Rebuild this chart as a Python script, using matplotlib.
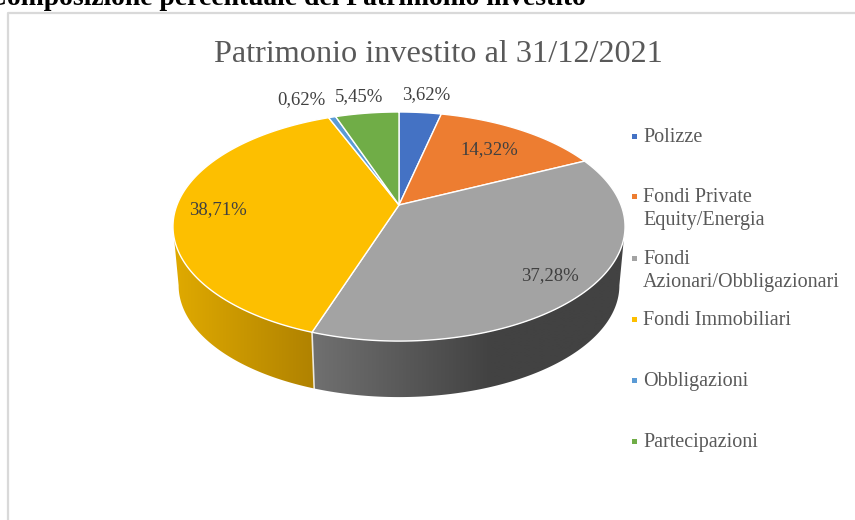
import numpy as np
import matplotlib
matplotlib.use("Agg")
import matplotlib.pyplot as plt
from matplotlib.patches import Polygon, Rectangle

categorie = ["Polizze", "Fondi Private\nEquity/Energia", "Fondi\nAzionari/Obbligazionari",
             "Fondi Immobiliari", "Obbligazioni", "Partecipazioni"]
valori = [3.62, 14.32, 37.28, 38.71, 0.62, 5.45]
etichette = ["3,62%", "14,32%", "37,28%", "38,71%", "0,62%", "5,45%"]
colori = ["#4472C4", "#ED7D31", "#A3A3A3", "#FDBF00", "#5B9BD5", "#70AD47"]

plt.rcParams['font.family'] = ['Liberation Serif', 'DejaVu Serif']
GRIGIO = "#595959"

# asse in pixel, come l'immagine
fig = plt.figure(figsize=(8.55, 5.2), dpi=100)
ax = fig.add_axes([0, 0, 1, 1])
ax.set_xlim(0, 855)
ax.set_ylim(520, 0)
ax.axis("off")
ax.set_autoscale_on(False)


def bordo(ang, basso=False):
    # angolo in gradi da ore 12 in senso orario, con prospettiva
    t = np.radians(ang)
    u, v = np.sin(t), np.cos(t)
    den = 1 + 0.188 * v
    if basso:
        return 399 + 0.975 * 222 * u / den, 264.4 - 0.975 * 110.5 * v / den
    return 399 + 222 * u / den, 205 - 110.5 * v / den


limiti = np.concatenate([[0], np.cumsum(valori)]) / sum(valori) * 360

# lato del disco con sfumatura orizzontale
xg = np.arange(160, 640)
sfumature = {
    2: np.stack([np.interp(xg, [313, 490, 625], [112, 66, 66])] * 3, axis=1),
    3: np.stack([np.interp(xg, [173, 313], [224, 176]),
                 np.interp(xg, [173, 313], [170, 130]),
                 np.zeros(len(xg))], axis=1),
}
for i in [2, 3]:
    ang = np.linspace(max(limiti[i], 100.8), min(limiti[i + 1], 259.2), 200)
    xs, ys = bordo(ang)
    xb, yb = bordo(ang[::-1], True)
    sagoma = Polygon(list(zip(xs, ys)) + list(zip(xb, yb)), closed=True,
                     facecolor="none", edgecolor="none", transform=ax.transData)
    ax.add_patch(sagoma)
    img = ax.imshow(sfumature[i][np.newaxis, :, :] / 255, extent=(160, 640, 420, 200),
                    aspect="auto", interpolation="bilinear", zorder=1)
    img.set_clip_path(sagoma)

# separazione sul lato
xa, ya = bordo(limiti[3])
xb, yb = bordo(limiti[3], True)
ax.plot([xa, xb], [ya, yb], color="white", lw=1.2, alpha=0.8, zorder=2)

# faccia superiore
for i in range(len(valori)):
    ang = np.linspace(limiti[i], limiti[i + 1], 120)
    xs, ys = bordo(ang)
    punti = [(399, 205)] + list(zip(xs, ys))
    ax.add_patch(Polygon(punti, closed=True, facecolor=colori[i], edgecolor="white",
                         linewidth=1.0, joinstyle="round", zorder=3))

# etichette
pos_etichette = [(426, 95), (489, 150), (550, 276), (218, 210), (301, 100), (359, 97)]
for testo, (x, y) in zip(etichette, pos_etichette):
    ax.text(x, y, testo, ha="center", va="center", fontsize=13.5, color="#404040", zorder=4)

# titoli
ax.text(438, 54, "Patrimonio investito al 31/12/2021", ha="center", va="center",
        fontsize=23.2, color=GRIGIO)
ax.text(586, 5, "Composizione percentuale del Patrimonio investito", ha="right", va="baseline",
        fontsize=19.9, fontweight="bold", color="black")

# cornice del grafico
ax.plot([8, 8, 855], [520, 13, 13], color="#D9D9D9", lw=1.6)

# legenda
pos_legenda = [136, 196, 258, 319, 380, 441]
for nome, col, y in zip(categorie, colori, pos_legenda):
    ax.add_patch(Rectangle((631.5, y - 2.5), 5, 5, facecolor=col, edgecolor="none"))
    ax.text(643, y - 8, nome, ha="left", va="top", fontsize=14.5, color=GRIGIO, linespacing=1.25)

fig.savefig("out.png", dpi=100)
